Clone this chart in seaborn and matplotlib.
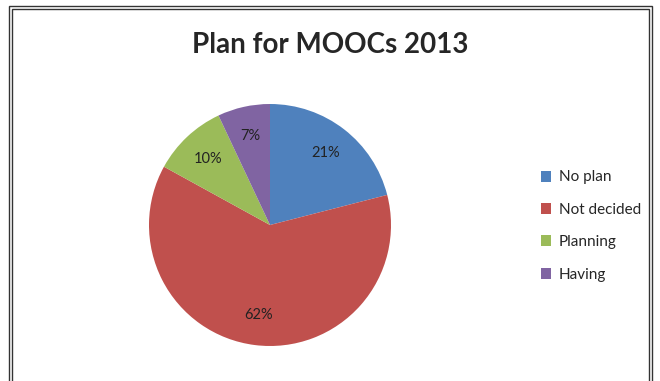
import matplotlib.pyplot as plt
import seaborn as sns
from matplotlib.patches import Rectangle

# data
labels = ['No plan', 'Not decided', 'Planning', 'Having']
shares = [21, 62, 10, 7]
colors = ['#4F81BD', '#C0504D', '#9BBB59', '#8064A2']

sns.set_theme(style="white")
plt.rcParams['font.family'] = ['Lato', 'DejaVu Sans']

fig = plt.figure(figsize=(6.6, 3.81), dpi=100)

# double frame round the chart area
for off in [0, 3]:
    fig.patches.append(Rectangle(((9 + off) / 660, -0.05), (643 - 2 * off) / 660,
                                 1.05 - (6 + off) / 381, transform=fig.transFigure,
                                 fill=False, edgecolor='#333333', linewidth=1.0))

ax = fig.add_axes([149 / 660, 35 / 381, 242 / 660, 242 / 381])
wedges, texts, autotexts = ax.pie(shares, colors=colors, startangle=90, counterclock=False,
                                  autopct='%d%%', pctdistance=0.75,
                                  wedgeprops={'linewidth': 0},
                                  textprops={'fontsize': 10.5, 'color': '#222222'})
ax.set_xlim(-1, 1)
ax.set_ylim(-1, 1)
ax.set_aspect('equal')

fig.text(0.5, 1 - 45 / 381, 'Plan for MOOCs 2013', ha='center', va='center',
         fontsize=20, fontweight='bold')

leg = fig.legend(wedges, labels, loc='center left', bbox_to_anchor=(527 / 660, 1 - 226 / 381),
                 frameon=False, fontsize=11, handlelength=0.7, handleheight=0.7,
                 handletextpad=0.5, labelspacing=1.2)

fig.savefig('out.png', dpi=100)
